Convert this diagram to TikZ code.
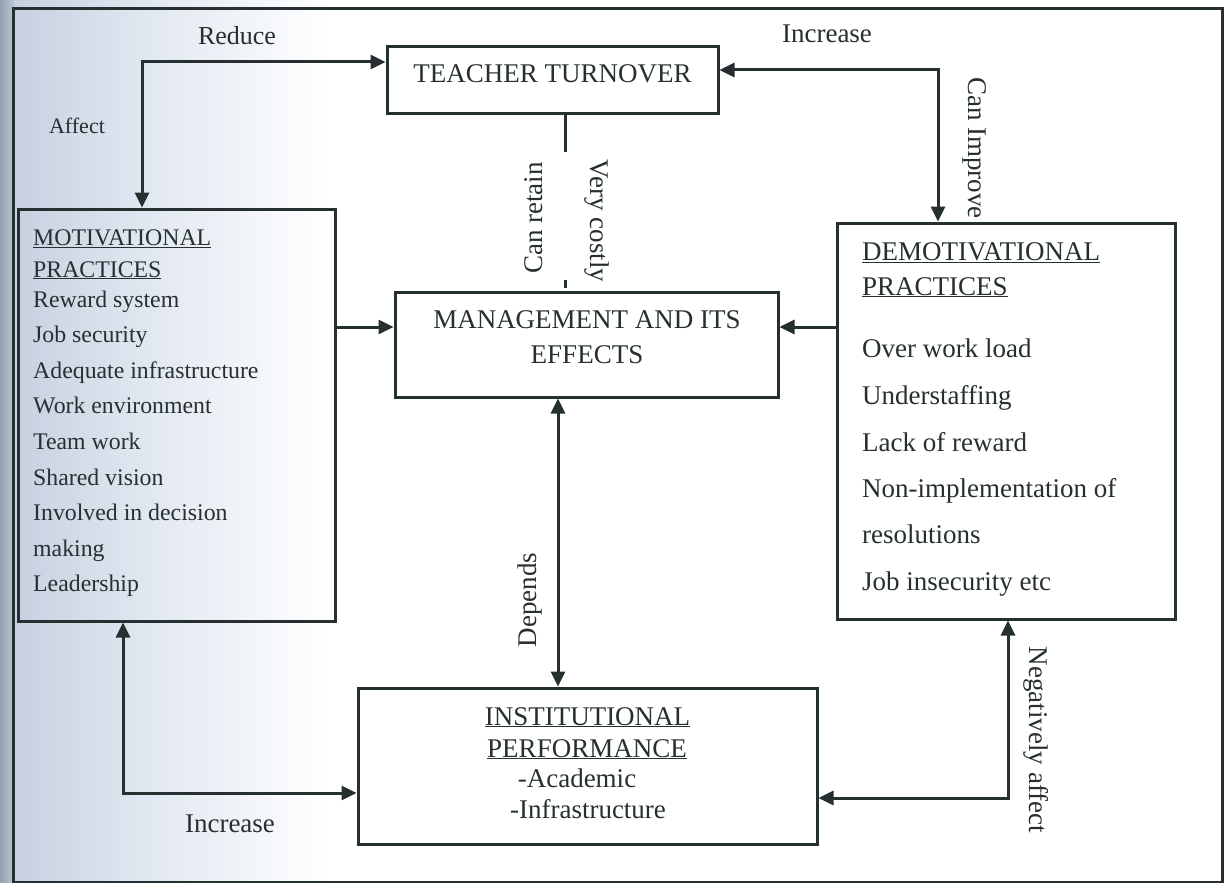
\documentclass[tikz,border=0pt]{standalone}
\usepackage{fontspec}
\setmainfont{Liberation Serif}
\usetikzlibrary{arrows.meta}
\definecolor{ink}{RGB}{38,48,48}
\definecolor{scanA}{RGB}{150,162,180}
\definecolor{scanB}{RGB}{196,206,222}
\definecolor{scanC}{RGB}{226,232,241}
\newcommand\FntMain{\fontsize{27pt}{32pt}\selectfont}
\newcommand\FntLeft{\fontsize{23.8pt}{30pt}\selectfont}
\newcommand\FntAffect{\fontsize{22pt}{26pt}\selectfont}
\begin{document}
\begin{tikzpicture}[x=1pt,y=1pt,
  box/.style={draw=ink, line width=3pt, inner sep=0pt, outer sep=1.5pt},
  conn/.style={draw=ink, line width=3pt, line join=miter,
    {Triangle[length=15pt,width=14pt]}-{Triangle[length=15pt,width=14pt]}},
  sgl/.style={draw=ink, line width=3pt, -{Triangle[length=15pt,width=14pt]}},
  txt/.style={text=ink, inner sep=0pt, font=\FntMain},
  ltxt/.style={text=ink, inner sep=0pt, font=\FntLeft, anchor=base west},
  rtxt/.style={text=ink, inner sep=0pt, font=\FntMain, anchor=base west},
  ctxt/.style={text=ink, inner sep=0pt, font=\FntMain, anchor=base}]
\useasboundingbox (0,0) rectangle (1232,-883);
% scanned page background
\fill[white] (0,0) rectangle (1232,-883);
\shade[left color=scanB, right color=scanC] (0,0) rectangle (150,-883);
\shade[left color=scanC, right color=white] (150,0) rectangle (330,-883);
\shade[left color=scanA, right color=scanB!80!scanA] (0,0) rectangle (14,-883);
% outer frame
\draw[ink, line width=3pt] (13,-9) rectangle (1222,-882);

% boxes
\node[box, minimum width=331pt, minimum height=66pt] (tt) at (552.5,-80) {};
\node[box, minimum width=317pt, minimum height=412pt] (mot) at (176.5,-415) {};
\node[box, minimum width=383pt, minimum height=105pt] (mg) at (586.5,-344.5) {};
\node[box, minimum width=338pt, minimum height=396pt] (dem) at (1006,-421) {};
\node[box, minimum width=459pt, minimum height=156pt] (inst) at (587.5,-766) {};

% box texts
\node[ctxt] (ttt) at (552.5,-83) {TEACHER TURNOVER};
\node[ctxt] (mg1) at (587,-328) {MANAGEMENT AND ITS};
\node[ctxt] (mg2) at (587,-363) {EFFECTS};

\node[ltxt] (m1) at (33,-245) {\underline{MOTIVATIONAL}};
\node[ltxt] (m2) at (33,-277) {\underline{PRACTICES}};
\foreach \t/\y [count=\i] in {Reward system/307, Job security/342,
  Adequate infrastructure/378, Work environment/413, Team work/449,
  Shared vision/485, Involved in decision/520, making/556, Leadership/591}
  \node[ltxt] (mi\i) at (33,-\y) {\t};

\node[rtxt] (d1) at (862,-260) {\underline{DEMOTIVATIONAL}};
\node[rtxt] (d2) at (862,-295) {\underline{PRACTICES}};
\foreach \t/\y [count=\i] in {Over work load/357, Understaffing/404,
  Lack of reward/451, Non-implementation of/497, resolutions/543,
  Job insecurity etc/590}
  \node[rtxt] (di\i) at (862,-\y) {\t};

\node[ctxt] (i1) at (587.5,-725) {\underline{INSTITUTIONAL}};
\node[ctxt] (i2) at (587,-757) {\underline{PERFORMANCE}};
\node[ctxt] (i3) at (577,-787) {-Academic};
\node[ctxt] (i4) at (588,-818) {-Infrastructure};

% connector bends
\coordinate (c1) at (142,-62);
\coordinate (c2) at (938,-70);
\coordinate (c3) at (0,-327);
\coordinate (c5) at (558,0);
\coordinate (c6) at (123,-793);
\coordinate (c7) at (1008,-798);
\coordinate (c8) at (565,0);

% connectors
\draw[conn] (mot.north -| c1) -- (c1) -- (tt.west |- c1);
\draw[conn] (tt.east |- c2) -- (c2) -- (c2 |- dem.north);
\draw[sgl] (mot.east |- c3) -- (mg.west |- c3);
\draw[sgl] (dem.west |- c3) -- (mg.east |- c3);
\draw[conn] (mg.south -| c5) -- (inst.north -| c5);
\draw[conn] (mot.south -| c6) -- (c6) -- (inst.west |- c6);
\draw[conn] (dem.south -| c7) -- (c7) -- (inst.east |- c7);
\draw[ink, line width=3pt, dash pattern=on 37pt off 128pt on 8pt off 60pt]
  (tt.south -| c8) -- (mg.north -| c8);

% connector labels
\node[ctxt, font=\fontsize{26pt}{30pt}\selectfont] (lreduce) at (237,-45) {Reduce};
\node[ctxt, font=\FntAffect] (laffect) at (77,-133) {Affect};
\node[ctxt] (lincr1) at (827,-43) {Increase};
\node[ctxt] (lincr2) at (230,-832) {Increase};
\node[txt, rotate=90] (lretain) at (534,-218) {Can retain};
\node[txt, rotate=-90] (lcostly) at (597,-221) {Very costly};
\node[txt, rotate=-90] (limprove) at (975,-148) {Can Improve};
\node[txt, rotate=90] (ldepends) at (530,-600) {Depends};
\node[txt, rotate=-90] (lneg) at (1036,-740) {Negatively affect};
\end{tikzpicture}
\end{document}
